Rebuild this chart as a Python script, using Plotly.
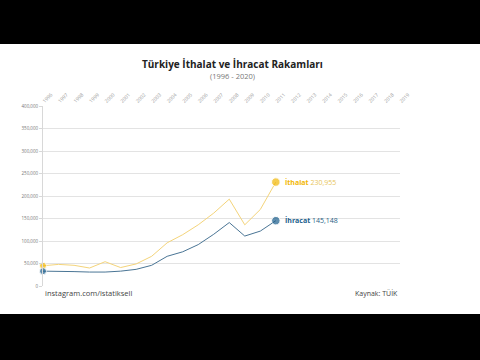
import plotly.graph_objects as go

years = list(range(1996, 2012))
ithalat = [45000, 48000, 46000, 40000, 54000, 41000, 49000, 66000, 96000, 114000,
           136000, 162000, 193000, 136000, 170000, 230955]
ihracat = [33000, 33000, 32000, 31000, 31000, 33000, 37000, 46000, 66000, 76000,
           92000, 115000, 141000, 111000, 122000, 145148]
axis_years = list(range(1996, 2020))
y_ticks = list(range(0, 400001, 50000))

C_IMP_LINE = "#F4D47A"
C_IMP_DOT = "#F2B705"
C_EXP_LINE = "#4A7595"
C_EXP_DOT = "#1B5E8C"
FONT = "Open Sans"

fig = go.Figure()
fig.add_trace(go.Scatter(x=years, y=ithalat, mode="lines",
                         line=dict(color=C_IMP_LINE, width=1), hoverinfo="skip"))
fig.add_trace(go.Scatter(x=years, y=ihracat, mode="lines",
                         line=dict(color=C_EXP_LINE, width=1), hoverinfo="skip"))
fig.add_trace(go.Scatter(x=[years[0], years[-1]], y=[ithalat[0], ithalat[-1]], mode="markers",
                         marker=dict(color=C_IMP_DOT, size=[7, 8.5]), cliponaxis=False))
fig.add_trace(go.Scatter(x=[years[0], years[-1]], y=[ihracat[0], ihracat[-1]], mode="markers",
                         marker=dict(color=C_EXP_DOT, size=[7, 8.5]), cliponaxis=False))

annotations = [
    dict(x=years[-1], y=ithalat[-1], xref="x", yref="y", xanchor="left", yanchor="middle",
         xshift=7, showarrow=False,
         text=f"<b>İthalat</b> <span style='color:#E8C55A'>{ithalat[-1]:,}</span>",
         font=dict(family=FONT, size=7, color=C_IMP_DOT)),
    dict(x=years[-1], y=ihracat[-1], xref="x", yref="y", xanchor="left", yanchor="middle",
         xshift=7, showarrow=False,
         text=f"<b>İhracat</b> <span style='color:#2B5F86'>{ihracat[-1]:,}</span>",
         font=dict(family=FONT, size=7, color=C_EXP_DOT)),
    dict(x=0.532, y=1.233, xref="paper", yref="paper", xanchor="center", yanchor="middle",
         text="<b>Türkiye İthalat ve İhracat Rakamları</b>", showarrow=False,
         font=dict(family=FONT, size=10, color="#222222")),
    dict(x=0.532, y=1.167, xref="paper", yref="paper", xanchor="center", yanchor="middle",
         text="(1996 - 2020)", showarrow=False,
         font=dict(family=FONT, size=7.5, color="#777777")),
    dict(x=0, y=0, xref="paper", yref="paper", xanchor="left", yanchor="middle", yshift=-7,
         text="instagram.com/istatiksell", showarrow=False,
         font=dict(family=FONT, size=7.5, color="#444444")),
    dict(x=1, y=0, xref="paper", yref="paper", xanchor="right", yanchor="middle", yshift=-7,
         text="Kaynak: TÜİK", showarrow=False,
         font=dict(family=FONT, size=7, color="#444444")),
]

shapes = [
    dict(type="rect", xref="paper", yref="paper", x0=-0.2, x1=1.3, y0=1.344, y1=1.7,
         fillcolor="black", line=dict(width=0), layer="above"),
    dict(type="rect", xref="paper", yref="paper", x0=-0.2, x1=1.3, y0=-0.5, y1=-0.1556,
         fillcolor="black", line=dict(width=0), layer="above"),
]

fig.update_layout(
    width=480, height=360,
    margin=dict(l=43, r=80, t=106, b=74),
    paper_bgcolor="white", plot_bgcolor="white",
    showlegend=False,
    annotations=annotations,
    shapes=shapes,
    font=dict(family=FONT),
    xaxis=dict(range=[1996, 2019], side="top", tickmode="array",
               tickvals=axis_years, ticktext=[str(y) for y in axis_years],
               tickangle=-45, tickfont=dict(size=5, color="#999999"),
               showgrid=False, zeroline=False, showline=False, ticks=""),
    yaxis=dict(range=[0, 400000], tickmode="array", tickvals=y_ticks,
               ticktext=[f"{v:,}" for v in y_ticks],
               tickfont=dict(size=4.5, color="#777777"),
               showgrid=True, gridcolor="#E3E3E3", gridwidth=1,
               zeroline=False, showline=True, linecolor="#D8D8D8", linewidth=1,
               ticks="outside", ticklen=3, tickcolor="#D8D8D8"),
)

fig.write_html("out.html")
